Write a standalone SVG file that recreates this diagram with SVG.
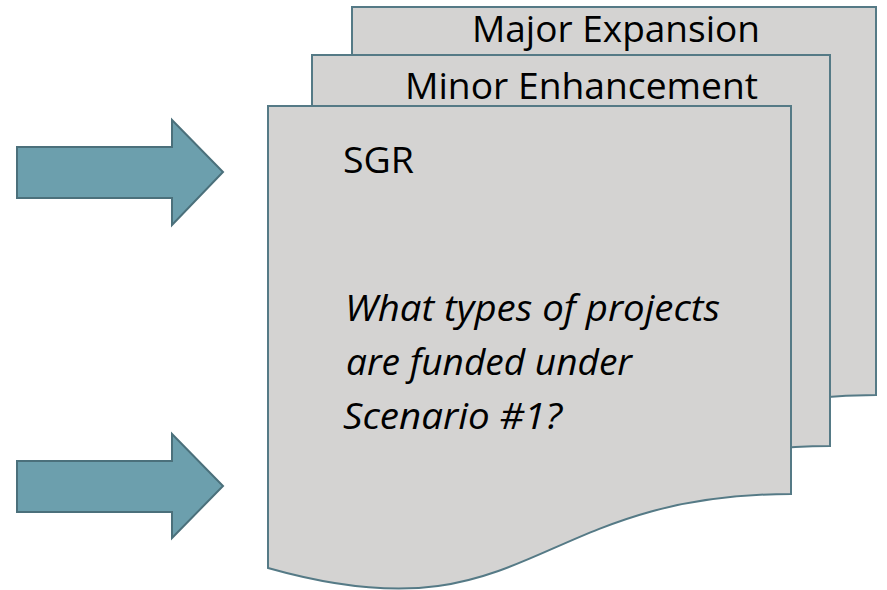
<svg xmlns="http://www.w3.org/2000/svg" width="887" height="590" viewBox="0 0 887 590">
  <style>
    .doc { fill: #d4d3d2; stroke: #557a86; stroke-width: 2; }
    .arrow { fill: #6c9fad; stroke: #4b707b; stroke-width: 2; }
    .t { font-family: "Open Sans", "Noto Sans", "Liberation Sans", sans-serif; font-size: 36px; fill: #000; }
    .it { font-style: italic; font-size: 37px; }
  </style>
  <rect width="887" height="590" fill="#ffffff"/>
  <g id="doc-major">
    <path class="doc" d="M352,7 H876 V395 C614,395 614,543 352,469 Z"/>
    <text class="t" x="472" y="42" textLength="288" lengthAdjust="spacingAndGlyphs">Major Expansion</text>
  </g>
  <g id="doc-minor">
    <path class="doc" d="M312,55 H830 V446 C571,446 571,595 312,520 Z"/>
    <text class="t" x="405" y="99" textLength="353" lengthAdjust="spacingAndGlyphs">Minor Enhancement</text>
  </g>
  <g id="doc-sgr">
    <path class="doc" d="M268,106 H791 V494 C529.5,494 529.5,642 268,568 Z"/>
    <text class="t" x="343" y="173" textLength="71" lengthAdjust="spacingAndGlyphs">SGR</text>
    <text class="t it" x="345" y="321" textLength="375" lengthAdjust="spacingAndGlyphs">What types of projects</text>
    <text class="t it" x="346" y="375" textLength="286" lengthAdjust="spacingAndGlyphs">are funded under</text>
    <text class="t it" x="343" y="429" textLength="219" lengthAdjust="spacingAndGlyphs">Scenario #1?</text>
  </g>
  <g id="connectors">
    <polygon class="arrow" points="17,147 172,147 172,120 223,172 172,225 172,198 17,198"/>
    <polygon class="arrow" points="17,461 172,461 172,434 223,486 172,538 172,512 17,512"/>
  </g>
</svg>
